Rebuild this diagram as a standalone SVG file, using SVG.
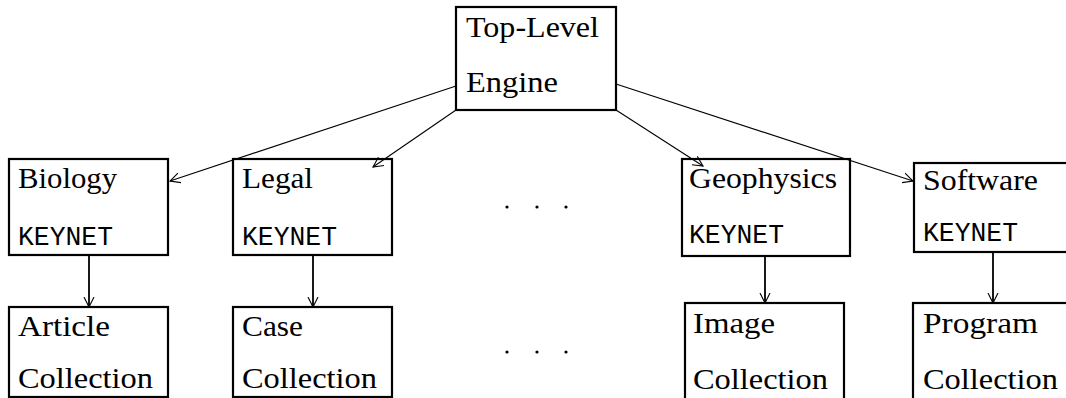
<svg xmlns="http://www.w3.org/2000/svg" width="1066" height="398" viewBox="0 0 1066 398">
<style>
.box{fill:none;stroke:#000;stroke-width:2.2}
.t{font-family:"Liberation Serif","DejaVu Serif",serif;font-size:30px;fill:#000}
.m{font-family:"Liberation Mono","DejaVu Sans Mono",monospace;font-size:28px;fill:#000}
.c{fill:none;stroke:#000;stroke-width:1.1}
.v{fill:none;stroke:#000;stroke-width:1.8}
</style>
<defs>
<marker id="ah" markerWidth="12" markerHeight="12" refX="10" refY="5" orient="auto" markerUnits="userSpaceOnUse" viewBox="0 0 12 10">
<path d="M0,0 L10,5 L0,10" fill="none" stroke="#000" stroke-width="1.1"/>
</marker>
</defs>
<rect width="1066" height="398" fill="#fff"/>
<g id="top">
<rect class="box" x="456" y="7" width="160" height="103"/>
<text class="t" x="466" y="37" textLength="133" lengthAdjust="spacingAndGlyphs">Top-Level</text>
<text class="t" x="466" y="92" textLength="92" lengthAdjust="spacingAndGlyphs">Engine</text>
</g>
<g id="biology">
<rect class="box" x="9" y="159" width="159" height="96"/>
<text class="t" x="18" y="188" textLength="99" lengthAdjust="spacingAndGlyphs">Biology</text>
<text class="m" x="18" y="245" textLength="95" lengthAdjust="spacingAndGlyphs">KEYNET</text>
</g>
<g id="legal">
<rect class="box" x="233" y="159" width="159" height="96"/>
<text class="t" x="242" y="188" textLength="71" lengthAdjust="spacingAndGlyphs">Legal</text>
<text class="m" x="242" y="245" textLength="95" lengthAdjust="spacingAndGlyphs">KEYNET</text>
</g>
<g id="geophysics">
<rect class="box" x="682" y="159" width="168" height="97"/>
<text class="t" x="689" y="188" textLength="148" lengthAdjust="spacingAndGlyphs">Geophysics</text>
<text class="m" x="689" y="243" textLength="95" lengthAdjust="spacingAndGlyphs">KEYNET</text>
</g>
<g id="software">
<rect class="box" x="914" y="163" width="160" height="89"/>
<text class="t" x="923" y="190" textLength="115" lengthAdjust="spacingAndGlyphs">Software</text>
<text class="m" x="923" y="241" textLength="95" lengthAdjust="spacingAndGlyphs">KEYNET</text>
</g>
<g id="dots1">
<circle cx="507" cy="207" r="1.6"/><circle cx="537" cy="207" r="1.6"/><circle cx="566" cy="207" r="1.6"/>
</g>
<g id="article">
<rect class="box" x="9" y="307" width="159" height="90"/>
<text class="t" x="18" y="336" textLength="92" lengthAdjust="spacingAndGlyphs">Article</text>
<text class="t" x="18" y="388" textLength="135" lengthAdjust="spacingAndGlyphs">Collection</text>
</g>
<g id="case">
<rect class="box" x="233" y="307" width="159" height="90"/>
<text class="t" x="242" y="336" textLength="61" lengthAdjust="spacingAndGlyphs">Case</text>
<text class="t" x="242" y="388" textLength="135" lengthAdjust="spacingAndGlyphs">Collection</text>
</g>
<g id="dots2">
<circle cx="507" cy="352" r="1.6"/><circle cx="537" cy="352" r="1.6"/><circle cx="566" cy="352" r="1.6"/>
</g>
<g id="image">
<rect class="box" x="685" y="303" width="159" height="110"/>
<text class="t" x="693" y="333" textLength="82" lengthAdjust="spacingAndGlyphs">Image</text>
<text class="t" x="693" y="389" textLength="135" lengthAdjust="spacingAndGlyphs">Collection</text>
</g>
<g id="program">
<rect class="box" x="913" y="303" width="160" height="110"/>
<text class="t" x="923" y="333" textLength="115" lengthAdjust="spacingAndGlyphs">Program</text>
<text class="t" x="923" y="389" textLength="135" lengthAdjust="spacingAndGlyphs">Collection</text>
</g>
<g id="connectors">
<line class="c" x1="456" y1="86" x2="170" y2="181" marker-end="url(#ah)"/>
<line class="c" x1="456" y1="110" x2="373" y2="167" marker-end="url(#ah)"/>
<line class="c" x1="616" y1="110" x2="703" y2="166" marker-end="url(#ah)"/>
<line class="c" x1="616" y1="84" x2="913" y2="181" marker-end="url(#ah)"/>
<line class="v" x1="89" y1="255" x2="89" y2="307" marker-end="url(#ah)"/>
<line class="v" x1="313" y1="255" x2="313" y2="307" marker-end="url(#ah)"/>
<line class="v" x1="765" y1="256" x2="765" y2="303" marker-end="url(#ah)"/>
<line class="v" x1="993" y1="252" x2="993" y2="303" stroke-width="2.8" marker-end="url(#ah)"/>
</g>
</svg>
